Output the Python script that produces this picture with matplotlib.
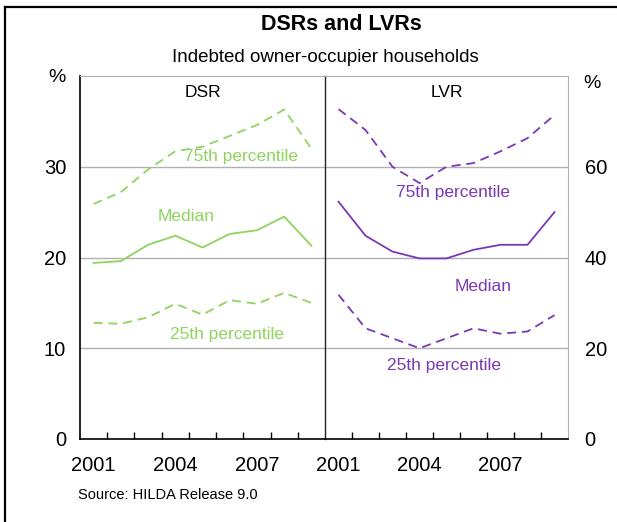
import matplotlib.pyplot as plt
from matplotlib.lines import Line2D

plt.rcParams['font.family'] = ['Liberation Sans', 'DejaVu Sans']

years = ['2001', '2002', '2003', '2004', '2005', '2006', '2007', '2008', '2009']

# Debt-servicing ratio (per cent)
dsr_p75 = [25.9, 27.2, 29.7, 31.7, 32.2, 33.4, 34.6, 36.3, 32.0]
dsr_median = [19.4, 19.6, 21.4, 22.4, 21.1, 22.6, 23.0, 24.5, 21.3]
dsr_p25 = [12.8, 12.7, 13.4, 14.9, 13.7, 15.3, 14.9, 16.1, 15.0]

# Loan-to-valuation ratio (per cent)
lvr_p75 = [72.7, 68.1, 60.0, 56.4, 60.0, 60.8, 63.4, 66.3, 71.4]
lvr_median = [52.3, 44.8, 41.3, 39.8, 39.8, 41.7, 42.8, 42.8, 50.0]
lvr_p25 = [31.8, 24.4, 22.2, 20.0, 22.2, 24.4, 23.2, 23.7, 27.3]

GREEN = '#8ed45e'
PURPLE = '#7a38b4'
GRID = '#b0b0b0'
W, H = 617, 522

fig = plt.figure(figsize=(W / 100, H / 100), dpi=100)

def px_rect(x0, y0, x1, y1):
    return [x0 / W, 1 - y1 / H, (x1 - x0) / W, (y1 - y0) / H]

ax1 = fig.add_axes(px_rect(80, 76, 325, 439))
ax2 = fig.add_axes(px_rect(325, 76, 568, 439))

x = list(range(len(years)))
dash = (0, (5, 3.2))

ax1.plot(x, dsr_p75, color=GREEN, lw=1.3, ls=dash)
ax1.plot(x, dsr_median, color=GREEN, lw=1.3)
ax1.plot(x, dsr_p25, color=GREEN, lw=1.3, ls=dash)

ax2.plot(x, lvr_p75, color=PURPLE, lw=1.3, ls=dash)
ax2.plot(x, lvr_median, color=PURPLE, lw=1.3)
ax2.plot(x, lvr_p25, color=PURPLE, lw=1.3, ls=dash)

for ax, top, step in [(ax1, 40, 10), (ax2, 80, 20)]:
    ax.set_xlim(-0.5, len(years) - 0.5)
    ax.set_ylim(0, top)
    # top value is replaced by the "%" unit label
    ax.set_yticks(range(0, top, step))
    for v in range(step, top, step):
        ax.axhline(v, color=GRID, lw=1.0, zorder=0)
    ax.set_xticks([0, 3, 6])
    ax.set_xticklabels([years[0], years[3], years[6]])
    ax.set_xticks([i + 0.5 for i in range(len(years) - 1)], minor=True)
    ax.tick_params(axis='x', which='major', length=0, labelsize=14.5, pad=12)
    ax.tick_params(axis='x', which='minor', direction='in', length=5, width=1)
    ax.tick_params(axis='y', length=0, labelsize=14.5, pad=10)
    ax.spines['top'].set_color(GRID)
    ax.spines['bottom'].set_color('black')
    ax.spines['bottom'].set_linewidth(1.2)

ax1.spines['left'].set_linewidth(1.2)
ax1.spines['right'].set_visible(False)
ax2.spines['left'].set_color('#222222')
ax2.spines['left'].set_linewidth(1.0)
ax2.spines['right'].set_color(GRID)
ax2.yaxis.tick_right()
ax2.tick_params(axis='y', which='both', left=False, right=False, pad=12)

ax1.text(0.5, 0.955, 'DSR', transform=ax1.transAxes, ha='center', va='center', fontsize=12.5)
ax2.text(0.5, 0.955, 'LVR', transform=ax2.transAxes, ha='center', va='center', fontsize=12.5)

lab = dict(ha='center', va='center', fontsize=12.5)
ax1.text(5.4, 31.1, '75th percentile', color=GREEN, **lab)
ax1.text(3.4, 24.5, 'Median', color=GREEN, **lab)
ax1.text(4.9, 11.5, '25th percentile', color=GREEN, **lab)
ax2.text(4.25, 54.4, '75th percentile', color=PURPLE, **lab)
ax2.text(5.35, 33.6, 'Median', color=PURPLE, **lab)
ax2.text(3.9, 16.2, '25th percentile', color=PURPLE, **lab)

fig.text(57 / W, 1 - 77 / H, '%', ha='center', va='center', fontsize=14)
fig.text(592 / W, 1 - 84 / H, '%', ha='center', va='center', fontsize=14)

fig.text(0.5 * (263 + 420) / W, 1 - 25 / H, 'DSRs and LVRs', ha='center', va='center',
         fontsize=15.5, fontweight='bold')
fig.text(0.5 * (168 + 483) / W, 1 - 57 / H, 'Indebted owner-occupier households',
         ha='center', va='center', fontsize=13.5)
fig.text(78 / W, 1 - 495 / H, 'Source: HILDA Release 9.0', ha='left', va='center', fontsize=10.5)

# outer frame (left and top edges)
fig.add_artist(Line2D([5 / W, 5 / W], [0, 1 - 7 / H], color='black', lw=1.6,
                      transform=fig.transFigure))
fig.add_artist(Line2D([5 / W, 1], [1 - 7 / H, 1 - 7 / H], color='black', lw=1.6,
                      transform=fig.transFigure))

fig.savefig('out.png', dpi=100)
